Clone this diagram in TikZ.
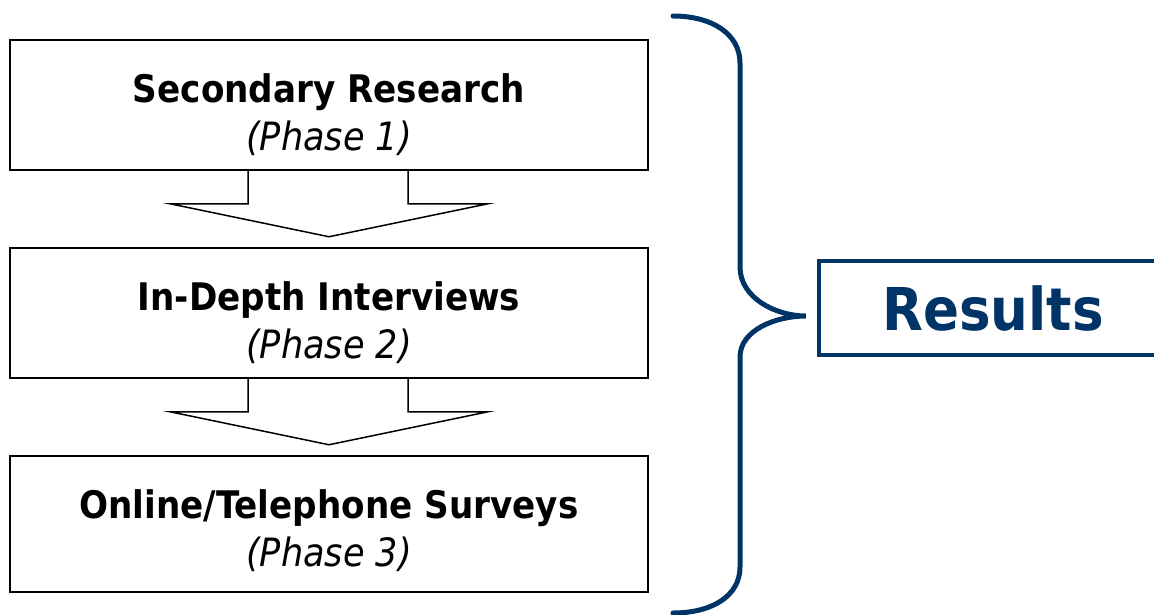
\documentclass[tikz,border=0pt]{standalone}
\usepackage{fontspec}
\setmainfont{DejaVu Sans Condensed}
\usetikzlibrary{calc}
\definecolor{resblue}{RGB}{0,51,102}
\tikzset{
 phasebox/.style={draw=black, line width=1.5, minimum width=638, minimum height=#1, inner sep=0},
 phasetitle/.style={anchor=base, font=\fontsize{38}{42}\selectfont\bfseries},
 phasesub/.style={anchor=base, font=\fontsize{39}{42}\selectfont\itshape},
 blockarrow/.style={draw=black, line width=1.5, line join=miter}
}

\begin{document}
\begin{tikzpicture} [x=1pt, y=-1pt]
\useasboundingbox (0,0) rectangle (1154,614);
% the three phases
\foreach \i/\y/\h/\title in {1/105/130/{Secondary Research}, 2/313/130/{In-Depth Interviews}, 3/524/136/{Online/Telephone Surveys}} {
 \node[phasebox=\h] (phase\i) at (329,\y) {};
 \node[phasetitle] (title\i) at ($(phase\i.north)+(0,63)$) {\title};
 \node[phasesub] (sub\i) at ($(phase\i.north)+(0,111)$) {(Phase \i)};
}
% block arrows between the boxes
\foreach \i/\j in {1/2, 2/3} {
 \draw[blockarrow] ($(phase\i.south)+(-81,0)$) --++(0,33) --++(-78,0)
   -- ($(phase\i.south)+(0,66)$) -- ($(phase\i.south)+(159,33)$) --++(-80,0) --++(0,-33);
}
% brace and results
\node[draw=resblue, line width=4.5, minimum width=348, minimum height=94, inner sep=0,
 text=resblue, font=\fontsize{59}{64}\selectfont\bfseries] (results) at (993,308) {Results};
\coordinate (tip) at ($(results.west)+(-11,8)$);
\draw[resblue, line width=5, line cap=round] (673,16) .. controls (712,16) and (740,34) .. (740,63)
 -- (740,267) .. controls (740,298) and (776,316) .. (tip)
 .. controls (776,316) and (740,330) .. (740,357)
 -- (740,567) .. controls (740,596) and (712,613) .. (673,613);
\end{tikzpicture}
\end{document}
